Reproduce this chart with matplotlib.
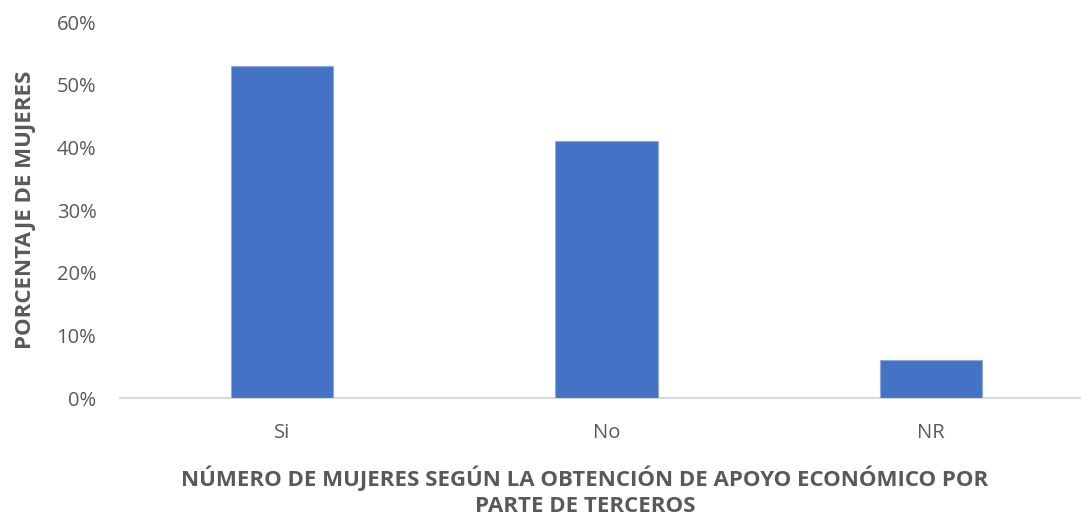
import numpy as np
import matplotlib.pyplot as plt
from matplotlib.ticker import FuncFormatter

# data
categories = ["Si", "No", "NR"]
values = [53, 41, 6]
y_ticks = [0, 10, 20, 30, 40, 50, 60]

plt.rcParams['font.family'] = ['Open Sans', 'DejaVu Sans']

fig = plt.figure(figsize=(10.81, 5.21), dpi=100)
# axes in pixel terms: left 120, right ~1093, bottom 398 from top, top 22
W, H = 1081, 521
ax = fig.add_axes([120 / W, (H - 398) / H, (1093 - 120) / W, (398 - 22) / H])

x = np.arange(len(categories))
ax.bar(x, values, width=0.315, color="#4472C4", edgecolor="#8FAADC", linewidth=0.8, zorder=3)

ax.set_xlim(-0.5, 2.5)
ax.set_ylim(0, 60)
ax.set_yticks(y_ticks)
ax.yaxis.set_major_formatter(FuncFormatter(lambda v, p: f"{int(v)}%"))
ax.set_xticks(x)
ax.set_xticklabels(categories)

for s in ["top", "right", "left"]:
    ax.spines[s].set_visible(False)
ax.spines["bottom"].set_color("#D9D9D9")
ax.spines["bottom"].set_linewidth(1.5)

ax.tick_params(axis="both", length=0, labelsize=14.5, labelcolor="#595959")
ax.tick_params(axis="y", pad=17)
ax.tick_params(axis="x", pad=18)

ax.set_ylabel("PORCENTAJE DE MUJERES", fontsize=16, fontweight="bold", color="#595959", labelpad=15)
# anchored at bottom so the second line stays inside the figure
fig.text(585 / W, 4 / H, "NÚMERO DE MUJERES SEGÚN LA OBTENCIÓN DE APOYO ECONÓMICO POR\nPARTE DE TERCEROS",
         ha="center", va="bottom", fontsize=16, fontweight="bold", color="#595959", linespacing=1.3)

fig.savefig("out.png", dpi=100)
